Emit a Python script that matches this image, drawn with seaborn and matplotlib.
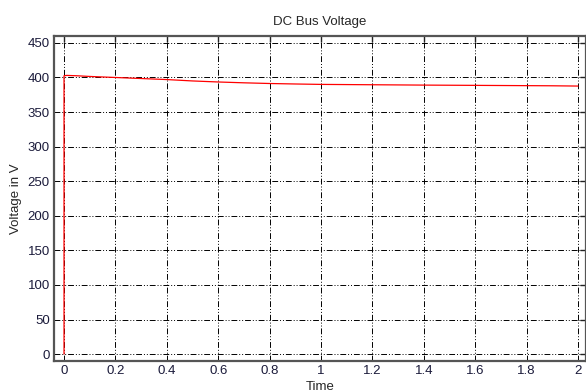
import numpy as np
import pandas as pd
import matplotlib
matplotlib.use("Agg")
import matplotlib.pyplot as plt
import seaborn as sns

# data
time = [0.0, 0.0, 0.01, 0.05, 0.1, 0.2, 0.3, 0.4, 0.5, 0.6, 0.7, 0.8, 0.9, 1.0,
        1.2, 1.4, 1.6, 1.8, 1.9, 2.0]
voltage = [0.0, 402.5, 403.0, 402.5, 401.5, 400.0, 398.5, 397.0, 395.0, 393.5, 392.3,
           391.3, 390.6, 390.0, 389.5, 389.0, 388.6, 388.2, 388.0, 387.6]
xticks = [0, 0.2, 0.4, 0.6, 0.8, 1, 1.2, 1.4, 1.6, 1.8, 2]
xticklabels = ["0", "0.2", "0.4", "0.6", "0.8", "1", "1.2", "1.4", "1.6", "1.8", "2"]
yticks = [0, 50, 100, 150, 200, 250, 300, 350, 400, 450]

sns.set_style("white")
plt.rcParams['font.family'] = ['Liberation Sans', 'DejaVu Sans']

df = pd.DataFrame({"Time": time, "Voltage": voltage})

fig = plt.figure(figsize=(5.86, 3.92), dpi=100)
ax = fig.add_axes([54/586, 1 - 361/392, 1 - 54/586, (361 - 36)/392])
sns.lineplot(data=df, x="Time", y="Voltage", ax=ax, color="#ff0000", lw=0.9,
             sort=False, estimator=None)

ax.set_xlim(-0.039, 2.031)
ax.set_ylim(-10, 460)
ax.set_xticks(xticks)
ax.set_xticklabels(xticklabels)
ax.set_yticks(yticks)
ax.tick_params(direction="in", length=4, width=1, colors="#222222", labelsize=9.5,
               labelcolor="#1a1a3a", top=True, right=True, pad=3)
ax.grid(True, color="black", linestyle=(0, (6, 2, 1, 2, 1, 2)), linewidth=0.7)
for s in ax.spines.values():
    s.set_color("#555555")
    s.set_linewidth(1.6)
ax.set_title("DC Bus Voltage", fontsize=9.5, pad=8)
ax.set_xlabel("Time", fontsize=9.5, labelpad=3)
ax.set_ylabel("Voltage in V", fontsize=9.5, labelpad=4)

fig.savefig("out.png", dpi=100)
